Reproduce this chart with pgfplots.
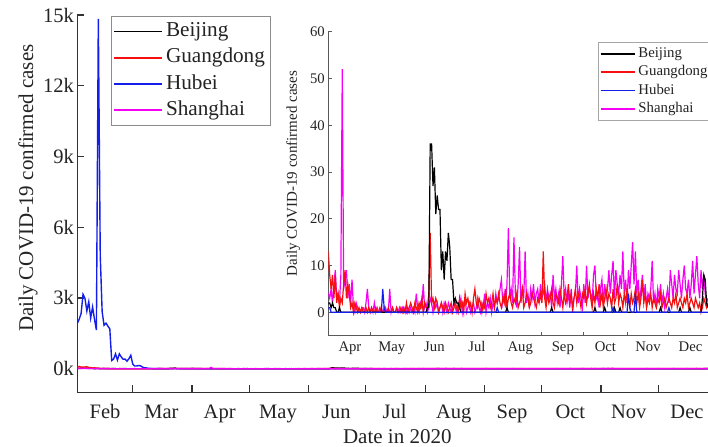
\documentclass[border=0pt]{standalone}
\usepackage{fontspec}
\setmainfont{Liberation Serif}
\usepackage{pgfplots}
\usepackage{pgfplotstable}
\pgfplotsset{compat=1.18}
\definecolor{cBJ}{RGB}{0,0,0}
\definecolor{cGD}{RGB}{245,15,15}
\definecolor{cHB}{RGB}{20,30,235}
\definecolor{cSH}{RGB}{245,0,245}
\definecolor{txt}{RGB}{35,35,35}

% Shanghai daily, Feb 1 (day 32) to Dec 29 (day 364)
\pgfplotstableread[row sep=\\]{v\\
13\\16\\20\\11\\10\\13\\10\\10\\8\\6\\ 3\\4\\3\\3\\3\\2\\2\\1\\0\\1\\ 0\\0\\1\\0\\1\\0\\0\\0\\0\\
0\\1\\0\\0\\0\\1\\0\\2\\1\\0\\ 3\\2\\1\\4\\3\\6\\9\\5\\7\\8\\ 12\\6\\10\\5\\8\\7\\3\\6\\4\\3\\5\\
4\\3\\5\\2\\6\\9\\3\\4\\2\\8\\ 52\\5\\7\\9\\3\\6\\2\\7\\1\\0\\ 2\\1\\0\\0\\1\\1\\0\\2\\5\\1\\
0\\1\\0\\2\\0\\1\\0\\0\\1\\0\\ 0\\1\\0\\0\\5\\0\\1\\0\\0\\1\\ 0\\1\\0\\1\\0\\1\\0\\1\\0\\1\\0\\
1\\0\\4\\1\\0\\2\\1\\6\\1\\2\\ 0\\1\\3\\2\\0\\2\\1\\2\\0\\1\\ 2\\0\\2\\1\\0\\2\\1\\0\\1\\2\\
1\\0\\2\\1\\3\\0\\2\\3\\0\\1\\ 2\\0\\1\\2\\0\\1\\3\\1\\0\\2\\ 1\\4\\0\\2\\1\\3\\0\\2\\1\\4\\2\\
3\\5\\7\\2\\4\\1\\6\\18\\3\\5\\ 2\\16\\4\\1\\6\\14\\2\\5\\3\\13\\ 2\\4\\1\\5\\3\\6\\2\\4\\5\\2\\6\\
3\\4\\6\\2\\5\\3\\4\\1\\8\\3\\ 5\\2\\4\\1\\6\\12\\3\\5\\2\\4\\ 1\\5\\0\\3\\4\\10\\2\\5\\3\\1\\
6\\2\\10\\3\\5\\4\\2\\8\\10\\3\\ 4\\1\\5\\7\\2\\6\\3\\5\\9\\4\\ 8\\11\\3\\9\\6\\4\\8\\5\\13\\4\\7\\
2\\9\\5\\10\\15\\6\\13\\4\\7\\2\\ 5\\8\\3\\6\\1\\4\\3\\5\\11\\2\\ 4\\1\\5\\3\\6\\2\\4\\1\\3\\5\\
2\\9\\6\\3\\8\\5\\4\\9\\6\\3\\ 7\\10\\5\\4\\7\\3\\6\\11\\4\\8\\ 12\\6\\3\\9\\5\\8\\4\\2\\3\\
}\shtab

% Guangdong daily, Feb 1 (day 32) to Dec 29 (day 364)
\pgfplotstableread[row sep=\\]{v\\
72\\96\\66\\67\\74\\81\\54\\49\\30\\37\\ 27\\24\\9\\11\\12\\7\\5\\4\\3\\0\\ 1\\0\\1\\1\\1\\0\\0\\0\\0\\
0\\1\\0\\0\\0\\1\\0\\0\\0\\0\\ 1\\0\\0\\1\\2\\1\\3\\4\\2\\6\\ 7\\5\\9\\11\\8\\6\\10\\7\\5\\9\\4\\
13\\8\\5\\8\\3\\8\\2\\4\\1\\3\\ 2\\6\\9\\3\\6\\4\\1\\2\\0\\2\\ 1\\0\\1\\0\\1\\0\\0\\1\\0\\1\\
0\\1\\0\\0\\1\\0\\0\\1\\0\\0\\ 1\\0\\0\\1\\0\\0\\1\\0\\0\\1\\ 0\\0\\1\\0\\1\\0\\2\\0\\1\\2\\1\\
0\\2\\1\\0\\2\\1\\3\\0\\2\\1\\ 1\\4\\17\\2\\3\\1\\3\\2\\0\\1\\ 2\\1\\0\\2\\1\\0\\1\\2\\0\\1\\
2\\1\\0\\3\\1\\2\\0\\4\\2\\3\\ 1\\2\\0\\3\\5\\2\\1\\3\\2\\0\\ 2\\1\\4\\2\\3\\1\\2\\4\\1\\3\\2\\
4\\2\\1\\3\\2\\5\\1\\3\\4\\2\\ 1\\3\\2\\4\\1\\2\\3\\5\\1\\2\\ 4\\3\\1\\2\\4\\3\\2\\1\\3\\2\\4\\
2\\13\\3\\1\\4\\2\\3\\5\\2\\1\\ 4\\3\\2\\5\\3\\1\\4\\2\\3\\6\\ 2\\4\\1\\3\\5\\2\\4\\3\\1\\4\\
3\\5\\2\\4\\6\\3\\1\\4\\2\\5\\ 3\\6\\2\\4\\1\\3\\5\\2\\4\\3\\ 1\\5\\2\\3\\6\\2\\4\\3\\1\\4\\2\\
5\\3\\1\\4\\2\\3\\5\\2\\4\\1\\ 3\\7\\2\\4\\1\\3\\2\\4\\1\\3\\ 2\\1\\3\\2\\4\\1\\2\\3\\1\\2\\
3\\2\\1\\3\\2\\4\\1\\2\\3\\2\\ 1\\3\\2\\4\\1\\2\\3\\2\\1\\3\\ 2\\1\\2\\0\\1\\3\\2\\1\\2\\
}\gdtab

% Beijing (day of year, cases)
\pgfplotstableread[row sep=\\]{d v\\
32 16\\33 16\\34 16\\35 21\\36 21\\37 20\\38 11\\39 11\\40 11\\41 5\\42 8\\43 8\\44 3\\45 1\\46 7\\47 2\\48 5\\49 0\\50 1\\51 3\\52 1\\53 0\\56 0\\57 3\\58 0\\
74 0\\75 2\\76 0\\79 0\\80 7\\81 21\\82 10\\83 31\\84 6\\85 11\\86 4\\87 4\\88 3\\89 7\\90 2\\91 1\\92 2\\93 2\\94 1\\95 2\\96 1\\97 1\\98 0\\99 0\\100 1\\101 0\\
162 0\\163 1\\164 1\\165 36\\166 36\\167 27\\168 31\\169 21\\170 25\\171 22\\172 22\\173 9\\174 13\\175 7\\176 13\\177 11\\178 17\\179 14\\180 7\\181 7\\182 2\\183 3\\184 2\\185 2\\186 1\\187 0\\
219 0\\220 1\\221 0\\251 0\\252 1\\253 0\\282 0\\283 1\\284 0\\289 0\\290 1\\291 0\\296 0\\297 1\\298 0\\300 0\\301 1\\302 0\\329 0\\330 1\\331 0\\343 0\\344 1\\345 0\\350 0\\351 1\\352 0\\
359 0\\360 3\\361 8\\362 7\\363 2\\364 1\\
}\bjtab

% Hubei (day of year, cases)
\pgfplotstableread[row sep=\\]{d v\\
32 1921\\33 2103\\34 2345\\35 3156\\36 2987\\37 2447\\38 2841\\39 2147\\40 2618\\41 2097\\42 1638\\43 14840\\44 4823\\45 2420\\46 1843\\47 1933\\48 1807\\49 1693\\50 349\\51 411\\52 631\\53 366\\54 630\\55 499\\56 401\\57 409\\58 318\\59 423\\60 570\\
61 196\\62 114\\63 115\\64 134\\65 126\\66 74\\67 41\\68 36\\69 17\\70 13\\71 8\\72 5\\73 4\\74 4\\75 4\\76 1\\77 1\\78 0\\91 0\\92 1\\93 1\\94 0\\
130 0\\131 5\\132 1\\133 0\\212 0\\213 1\\214 0\\295 0\\296 1\\297 0\\306 0\\307 4\\308 1\\309 0\\311 0\\312 4\\313 0\\335 0\\336 1\\337 0\\364 0\\
}\hbtab

\begin{document}
\begin{tikzpicture}
\useasboundingbox (0,0) rectangle (708bp,447bp);
% ---------------- main axis ----------------
\begin{axis}[
  at={(77.3bp,54.7bp)}, anchor=south west,
  scale only axis, width=630.7bp, height=377.3bp,
  xmin=32, xmax=362, ymin=-1000, ymax=15000,
  axis x line*=bottom, axis y line*=left,
  axis line style={-, draw=black!80, line width=1.2bp},
  tick align=inside,
  major tick length=7bp,
  tick style={draw=black!80, line width=1.2bp},
  scaled y ticks=false, scaled x ticks=false,
  xtick={61,92,122,153,183,214,245,275,306,336},
  xticklabels={,,,,,,,,,},
  extra x ticks={46.5,76,106.5,137,167.5,198,229,259.5,290,320.5,351},
  extra x tick labels={Feb,Mar,Apr,May,Jun,Jul,Aug,Sep,Oct,Nov,Dec},
  extra x tick style={major tick length=0pt, tick label style={anchor=base, yshift=-26.3bp}},
  ytick={0,3000,6000,9000,12000,15000},
  yticklabels={0k,3k,6k,9k,12k,15k},
  tick label style={font=\fontsize{20.5bp}{24bp}\selectfont, text=txt},
  xlabel={Date in 2020},
  xlabel style={at={(axis description cs:0.5074,0)}, anchor=base, yshift=-51.6bp, inner sep=0pt, font=\fontsize{21bp}{24bp}\selectfont, text=txt},
  ylabel={Daily COVID-19 confirmed cases},
  ylabel style={at={(axis description cs:-0.078,0.541)}, anchor=center, font=\fontsize{21bp}{24bp}\selectfont, text=txt},
  legend image post style={xscale=2.8, line width=1.7bp},
  legend cell align=left,
  legend style={at={(axis description cs:0.0534,0.9974)}, anchor=north west,
    draw=black!45, fill=white,
    font=\fontsize{21.2bp}{24bp}\selectfont, text=txt,
    inner xsep=2bp, inner ysep=5.5bp, row sep=6.8bp,
    nodes={inner xsep=3.5bp, inner ysep=0pt, text height=15bp, text depth=4.5bp}},
]
\addplot[cBJ, line width=1.4bp] table[x=d, y=v]{\bjtab};
\addplot[cGD, line width=1.4bp] table[x expr=\coordindex+32, y=v]{\gdtab};
\addplot[cHB, line width=1.4bp] table[x=d, y=v]{\hbtab};
\addplot[cSH, line width=1.4bp] table[x expr=\coordindex+32, y=v]{\shtab};
\legend{Beijing,Guangdong,Hubei,Shanghai}
\end{axis}
% ---------------- inset axis ----------------
\begin{axis}[
  at={(328.3bp,111.3bp)}, anchor=south west,
  scale only axis, width=379.7bp, height=304bp,
  xmin=92, xmax=364, ymin=-5, ymax=60,
  axis x line*=bottom, axis y line*=left,
  axis line style={-, draw=black!65, line width=1bp},
  tick align=inside,
  major tick length=3.8bp,
  tick style={draw=black!65, line width=1bp},
  scaled y ticks=false, scaled x ticks=false,
  xtick={122,153,183,214,245,275,306,336},
  xticklabels={,,,,,,,},
  extra x ticks={107.5,137.5,168,198.5,229.5,260,290.5,321,351.5},
  extra x tick labels={Apr,May,Jun,Jul,Aug,Sep,Oct,Nov,Dec},
  extra x tick style={major tick length=0pt, tick label style={anchor=base, yshift=-16.3bp}},
  ytick={0,10,20,30,40,50,60},
  yticklabels={0,10,20,30,40,50,60},
  tick label style={font=\fontsize{14.7bp}{17bp}\selectfont, text=txt},
  ylabel={Daily COVID-19 confirmed cases},
  ylabel style={at={(axis description cs:-0.0922,0.5336)}, anchor=center, font=\fontsize{15bp}{17bp}\selectfont, text=txt},
  legend image post style={xscale=2.0, line width=1.5bp},
  legend cell align=left,
  legend style={at={(axis description cs:0.7095,0.965)}, anchor=north west,
    draw=black!35, fill=white,
    font=\fontsize{14.8bp}{17bp}\selectfont, text=txt,
    inner xsep=2bp, inner ysep=4.5bp, row sep=4.9bp,
    nodes={inner xsep=3bp, inner ysep=0pt, text height=10.3bp, text depth=3.2bp}},
  restrict x to domain=91:365,
]
\addplot[cSH, line width=1.2bp, forget plot] table[x expr=\coordindex+32, y=v]{\shtab};
\addplot[cGD, line width=1.2bp, forget plot] table[x expr=\coordindex+32, y=v]{\gdtab};
\addplot[cBJ, line width=1.2bp, forget plot] table[x=d, y=v]{\bjtab};
\addplot[cHB, line width=1.2bp, forget plot] table[x=d, y=v]{\hbtab};
\addlegendimage{cBJ}
\addlegendentry{Beijing}
\addlegendimage{cGD}
\addlegendentry{Guangdong}
\addlegendimage{cHB}
\addlegendentry{Hubei}
\addlegendimage{cSH}
\addlegendentry{Shanghai}
\end{axis}
\end{tikzpicture}
\end{document}
